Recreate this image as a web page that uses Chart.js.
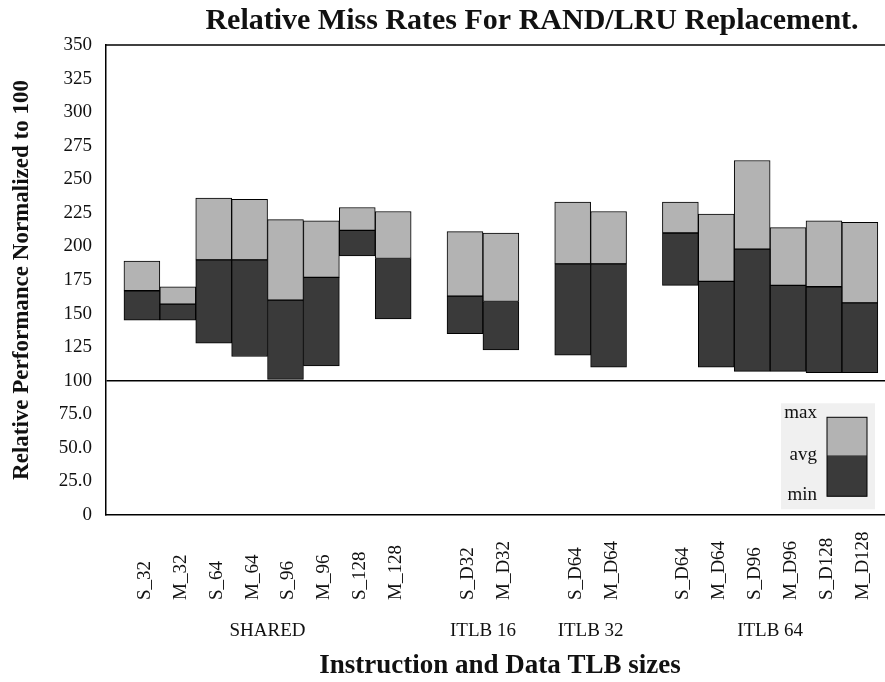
<!DOCTYPE html>
<html>
<head>
<meta charset="utf-8">
<script src="https://cdn.jsdelivr.net/npm/chart.js@4.4.1/dist/chart.umd.min.js"></script>
<style>
  html, body { margin: 0; padding: 0; background: #fff; }
  #wrap { width: 885px; height: 682px; }
</style>
</head>
<body>
<div id="wrap"><canvas id="chart" width="885" height="682"></canvas></div>
<script>
// categories, '' marks an empty slot between groups
const categories = ['S_32', 'M_32', 'S_64', 'M_64', 'S_96', 'M_96', 'S_128', 'M_128', '',
    'S_D32', 'M_D32', '', 'S_D64', 'M_D64', '', 'S_D64', 'M_D64', 'S_D96', 'M_D96', 'S_D128', 'M_D128'];
const groups = ['SHARED', 'ITLB 16', 'ITLB 32', 'ITLB 64'];
const groupOf = [0, 0, 0, 0, 0, 0, 0, 0, null, 1, 1, null, 2, 2, null, 3, 3, 3, 3, 3, 3];

const minVals = [145, 145, 128, 118, 101, 111, 193, 146, null, 135, 123, null, 119, 110, null, 171, 110, 107, 107, 106, 106];
const avgVals = [167, 157, 190, 190, 160, 177, 212, 191, null, 163, 159, null, 187, 187, null, 210, 174, 198, 171, 170, 158];
const maxVals = [189, 170, 236, 235, 220, 219, 229, 226, null, 211, 210, null, 233, 226, null, 233, 224, 264, 214, 219, 218];

const yTickLabels = ['0', '25.0', '50.0', '75.0', '100', '125', '150', '175', '200', '225', '250', '275', '300', '325', '350'];

const serif = '"Liberation Serif", "Times New Roman", serif';
const lightFill = '#b3b3b3';
const darkFill = '#3a3a3a';

const lowBars = [], highBars = [];
categories.forEach((c, i) => {
    if (!c) return;
    lowBars.push({ x: i, y: [minVals[i], avgVals[i]] });
    highBars.push({ x: i, y: [avgVals[i], maxVals[i]] });
});

// titles, tick labels, group names and the legend box
const decorations = {
    id: 'decorations',
    afterDraw(chart) {
        const ctx = chart.ctx;
        const area = chart.chartArea;
        const xs = chart.scales.x;
        const ys = chart.scales.y;
        ctx.save();
        ctx.fillStyle = '#111';

        // top frame line
        ctx.strokeStyle = '#000';
        ctx.lineWidth = 1.5;
        ctx.beginPath();
        ctx.moveTo(area.left, area.top);
        ctx.lineTo(area.right, area.top);
        ctx.stroke();

        // chart title
        ctx.font = 'bold 30px ' + serif;
        ctx.textAlign = 'center';
        ctx.textBaseline = 'middle';
        ctx.fillText('Relative Miss Rates For RAND/LRU Replacement.', 532, 21);

        // rotated category labels
        ctx.font = '19px ' + serif;
        categories.forEach((c, i) => {
            if (!c) return;
            const x = xs.getPixelForValue(i) + 3;
            ctx.save();
            ctx.translate(x, area.bottom + 85);
            ctx.rotate(-Math.PI / 2);
            ctx.textAlign = 'left';
            ctx.textBaseline = 'middle';
            ctx.fillText(c, 0, 0);
            ctx.restore();
        });

        // group labels
        groups.forEach((g, gi) => {
            const idx = [];
            groupOf.forEach((v, i) => { if (v === gi) idx.push(i); });
            const x = (xs.getPixelForValue(idx[0]) + xs.getPixelForValue(idx[idx.length - 1])) / 2;
            ctx.textAlign = 'center';
            ctx.textBaseline = 'middle';
            ctx.fillText(g, x, area.bottom + 116);
        });

        // x axis title
        ctx.font = 'bold 27px ' + serif;
        ctx.fillText('Instruction and Data TLB sizes', 500, area.bottom + 151);

        // legend
        const lx = area.right - 104, ly = ys.getPixelForValue(75) - 11;
        ctx.fillStyle = '#f0f0f0';
        ctx.fillRect(lx, ly, 94, 106);
        const bx = lx + 46, bw = 40;
        ctx.fillStyle = lightFill;
        ctx.fillRect(bx, ly + 14, bw, 38);
        ctx.fillStyle = darkFill;
        ctx.fillRect(bx, ly + 52, bw, 41);
        ctx.strokeStyle = '#000';
        ctx.lineWidth = 1;
        ctx.strokeRect(bx, ly + 14, bw, 79);
        ctx.fillStyle = '#111';
        ctx.font = '19px ' + serif;
        ctx.textAlign = 'right';
        ctx.textBaseline = 'middle';
        ctx.fillText('max', bx - 10, ly + 10);
        ctx.fillText('avg', bx - 10, ly + 52);
        ctx.fillText('min', bx - 10, ly + 92);
        ctx.restore();
    }
};

new Chart(document.getElementById('chart'), {
    type: 'bar',
    data: {
        datasets: [{
            label: 'min-avg',
            data: lowBars,
            backgroundColor: darkFill,
            borderColor: '#000',
            borderWidth: 1,
            borderSkipped: false,
            grouped: false,
            barPercentage: 1,
            categoryPercentage: 1
        }, {
            label: 'avg-max',
            data: highBars,
            backgroundColor: lightFill,
            borderColor: '#000',
            borderWidth: 1,
            borderSkipped: false,
            grouped: false,
            barPercentage: 1,
            categoryPercentage: 1
        }]
    },
    options: {
        responsive: false,
        animation: false,
        layout: { padding: { top: 45, right: 0, bottom: 0, left: 0 } },
        plugins: {
            legend: { display: false },
            title: { display: false },
            tooltip: { enabled: false }
        },
        scales: {
            x: {
                type: 'linear',
                min: -1,
                max: 20.7,
                offset: false,
                grid: { display: false, drawTicks: false },
                border: { display: true, color: '#000', width: 1.5 },
                ticks: { display: false },
                afterFit(scale) { scale.height = 167; }
            },
            y: {
                min: 0,
                max: 350,
                beginAtZero: true,
                ticks: {
                    stepSize: 25,
                    padding: 14,
                    color: '#111',
                    font: { family: serif, size: 19 },
                    callback: (v) => yTickLabels[Math.round(v / 25)]
                },
                grid: {
                    drawTicks: false,
                    color: (c) => (c.tick && c.tick.value === 100 ? '#000' : 'rgba(0,0,0,0)'),
                    lineWidth: 1.5
                },
                border: { display: true, color: '#000', width: 1.5 },
                title: {
                    display: true,
                    text: 'Relative Performance Normalized to 100',
                    color: '#111',
                    font: { family: serif, size: 23, weight: 'bold' },
                    padding: { top: 8, bottom: 0 }
                },
                afterFit(scale) { scale.width = 106; }
            }
        }
    },
    plugins: [decorations]
});
</script>
</body>
</html>
